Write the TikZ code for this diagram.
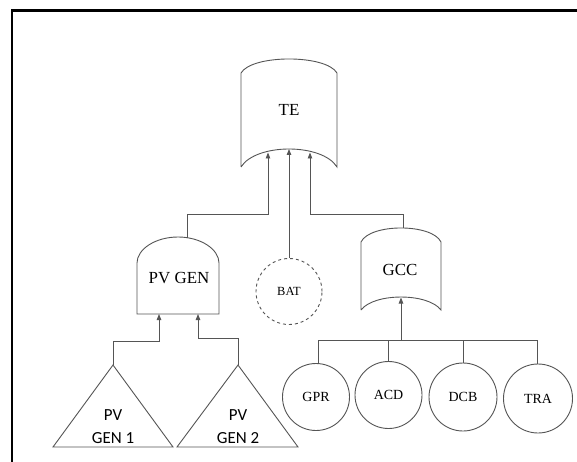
\documentclass[tikz,border=0pt]{standalone}
\usepackage{fontspec}
\setmainfont{Liberation Serif}
\newfontfamily\calfont{Carlito}
\usetikzlibrary{arrows.meta}
\definecolor{ln}{RGB}{85,85,85}
\tikzset{
  gate/.style={draw=ln, line width=0.9bp},
  conn/.style={draw=ln, line width=0.9bp},
  arr/.style={conn, -{Triangle[width=4.5bp,length=6bp]}},
  evt/.style={circle, draw=ln, line width=0.9bp, inner sep=0pt, font=\fontsize{14}{16}\selectfont},
  lbl/.style={inner sep=0pt, font=\fontsize{17}{19}\selectfont},
  slbl/.style={inner sep=0pt, align=center, font=\calfont\fontsize{17}{23}\selectfont},
}
\begin{document}
\begin{tikzpicture}[x=1bp,y=-1bp]
\useasboundingbox (0,0) rectangle (577,462);
\fill[white] (0,0) rectangle (577,462);
% frame
\draw[line width=2.2bp, line cap=rect] (12,462) -- (12,10.5) -- (577,10.5);

% TE gate
\draw[gate] (241,167) -- (241,73) .. controls (252,54.3) and (326,54.3) .. (337,73)
  -- (337,167) .. controls (322,143) and (256,143) .. (241,167);
\node[lbl] (te) at (289,110) {TE};
\coordinate (tein1) at (268,152.5);
\coordinate (tein2) at (289,149);
\coordinate (tein3) at (310,152.5);

% PV GEN gate
\draw[gate] (137,314) -- (137,263) .. controls (137,249.2) and (155.4,237) .. (178,237)
  .. controls (200.6,237) and (219,249.2) .. (219,263) -- (219,314) -- cycle;
\node[lbl] (pvgen) at (179,278) {PV GEN};
\coordinate (pvtop) at (187,237.6);
\coordinate (pvin1) at (159,314);
\coordinate (pvin2) at (198,314);

% GCC gate
\draw[gate] (361,310) -- (361,242) .. controls (370,223.3) and (432,223.3) .. (441,242)
  -- (441,310) .. controls (428,292.7) and (374,292.7) .. (361,310);
\node[lbl] (gcc) at (400,270) {GCC};
\coordinate (gcctop) at (403,228.5);
\coordinate (gccin) at (401,297.5);

% BAT
\node[evt, dashed, minimum size=66bp, font=\fontsize{12.5}{14}\selectfont] (bat) at (289,291.5) {BAT};

% triangles
\coordinate (apex1) at (113,365);
\coordinate (apex2) at (238,365);
\draw[gate] (apex1) -- (173,447) -- (53,447) -- cycle;
\draw[gate] (apex2) -- (298,447) -- (177,447) -- cycle;
\node[slbl] (pv1) at (113,427) {PV\\GEN 1};
\node[slbl] (pv2) at (238,427) {PV\\GEN 2};

% basic events
\node[evt, minimum size=67bp] (gpr) at (316,397) {GPR};
\node[evt, minimum size=67bp] (acd) at (388.5,395) {ACD};
\node[evt, minimum size=68bp] (dcb) at (463,397) {DCB};
\node[evt, minimum size=69bp] (tra) at (538,398.5) {TRA};

% connectors
\coordinate (j1) at (268,214);
\coordinate (j3) at (310,214);
\draw[arr] (pvtop) |- (j1) -- (tein1);
\draw[arr] (bat.north) -- (tein2);
\draw[arr] (gcctop) |- (j3) -- (tein3);

\coordinate (k1) at (159,341);
\coordinate (k2) at (198,338);
\draw[arr] (apex1) |- (k1) -- (pvin1);
\draw[arr] (apex2) |- (k2) -- (pvin2);

\coordinate (busL) at (318,340);
\coordinate (busR) at (537,340);
\coordinate (busM) at (401,340);
\draw[conn] (gpr.north -| busL) -- (busL) -- (busR) -- (tra.north -| busR);
\draw[conn] (acd.north) -- (acd.north |- busL);
\draw[conn] (dcb.north) -- (dcb.north |- busL);
\draw[arr] (busM) -- (gccin);
\end{tikzpicture}
\end{document}
